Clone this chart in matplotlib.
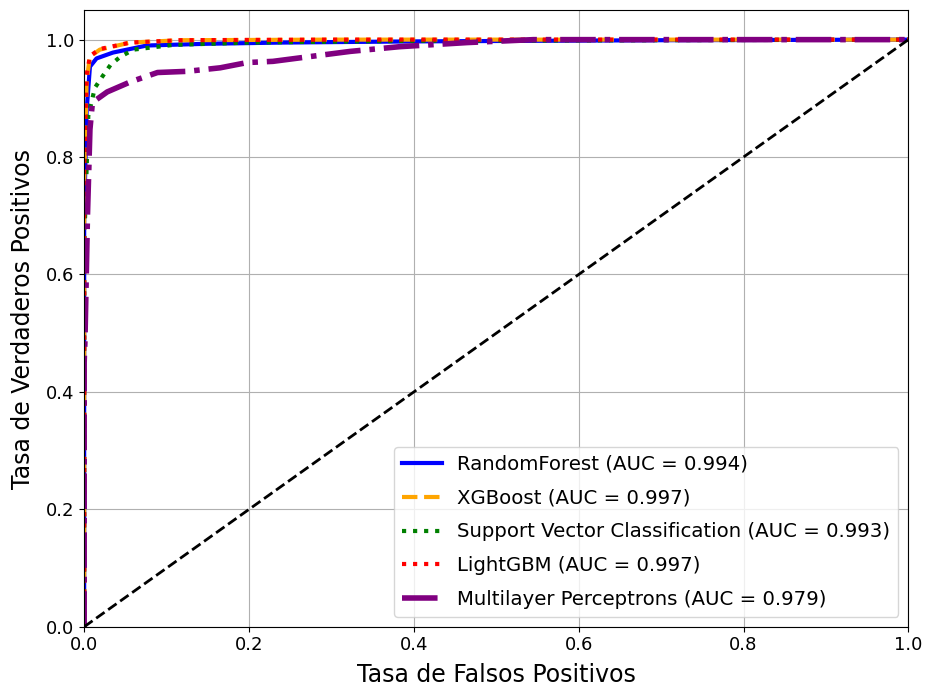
import matplotlib
matplotlib.use('Agg')
import matplotlib.pyplot as plt

# ROC points
rf_fpr = [0.0, 0.0, 0.003, 0.007, 0.015, 0.035, 0.076, 0.15, 0.24, 0.4, 0.7, 1.0]
rf_tpr = [0.0, 0.70, 0.88, 0.954, 0.968, 0.978, 0.99, 0.993, 0.995, 0.997, 0.999, 1.0]

xgb_fpr = [0.0, 0.0, 0.003, 0.007, 0.019, 0.056, 0.117, 0.3, 0.6, 1.0]
xgb_tpr = [0.0, 0.75, 0.93, 0.971, 0.983, 0.995, 0.999, 1.0, 1.0, 1.0]

svc_fpr = [0.0, 0.0, 0.005, 0.013, 0.022, 0.032, 0.044, 0.06, 0.108, 0.2, 0.4, 1.0]
svc_tpr = [0.0, 0.65, 0.87, 0.918, 0.937, 0.957, 0.971, 0.983, 0.991, 0.995, 0.998, 1.0]

lgbm_fpr = [0.0, 0.0, 0.003, 0.007, 0.019, 0.056, 0.117, 0.3, 0.6, 1.0]
lgbm_tpr = [0.0, 0.78, 0.94, 0.972, 0.984, 0.995, 0.999, 1.0, 1.0, 1.0]

mlp_fpr = [0.0, 0.0, 0.001, 0.004, 0.007, 0.01, 0.028, 0.056, 0.089, 0.125, 0.165, 0.198,
           0.229, 0.262, 0.323, 0.383, 0.465, 0.545, 0.7, 1.0]
mlp_tpr = [0.0, 0.45, 0.49, 0.7, 0.847, 0.893, 0.911, 0.928, 0.944, 0.946, 0.952, 0.961,
           0.963, 0.969, 0.98, 0.988, 0.995, 1.0, 1.0, 1.0]

labels = ['RandomForest (AUC = 0.994)', 'XGBoost (AUC = 0.997)',
          'Support Vector Classification (AUC = 0.993)', 'LightGBM (AUC = 0.997)',
          'Multilayer Perceptrons (AUC = 0.979)']

plt.figure(figsize=(9.25, 6.85), dpi=100)
plt.plot(rf_fpr, rf_tpr, color='blue', linestyle='-', lw=3, label=labels[0])
plt.plot(xgb_fpr, xgb_tpr, color='orange', linestyle='--', lw=3, label=labels[1])
plt.plot(svc_fpr, svc_tpr, color='green', linestyle=':', lw=3, label=labels[2])
plt.plot(lgbm_fpr, lgbm_tpr, color='red', linestyle=':', lw=3, label=labels[3])
plt.plot(mlp_fpr, mlp_tpr, color='purple', linestyle='-.', lw=4, label=labels[4])
plt.plot([0, 1], [0, 1], color='black', linestyle='--', lw=2)

plt.xlim(0.0, 1.0)
plt.ylim(0.0, 1.05)
plt.xlabel('Tasa de Falsos Positivos', fontsize=17, labelpad=6)
plt.ylabel('Tasa de Verdaderos Positivos', fontsize=17, labelpad=8)
plt.xticks(fontsize=13)
plt.yticks(fontsize=13)
plt.grid(True)
plt.legend(loc='lower right', fontsize=14.2, labelspacing=0.75, handlelength=2.0)
plt.subplots_adjust(left=0.091, right=0.982, bottom=0.085, top=0.985)
plt.savefig('out.png', dpi=100)
